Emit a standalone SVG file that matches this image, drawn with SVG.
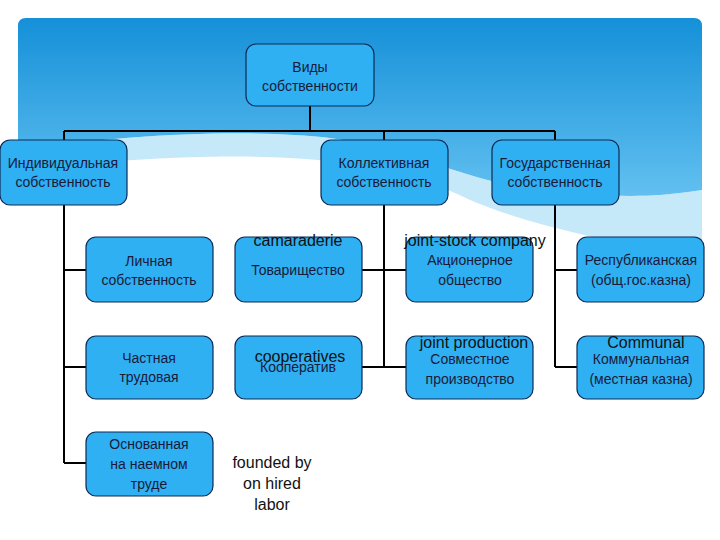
<svg xmlns="http://www.w3.org/2000/svg" width="720" height="540" viewBox="0 0 720 540">
<defs>
<linearGradient id="bg" x1="0" y1="0" x2="0" y2="1">
<stop offset="0" stop-color="#1590d8"/><stop offset="1" stop-color="#62c0f0"/>
</linearGradient>
<style>
.n rect{fill:#2eb0f2;stroke:#0d2a55;stroke-width:1.2}
.n text{font-family:"Liberation Sans",Arial,sans-serif;font-size:14px;fill:#1a1a3a;text-anchor:middle}
.n text.en,.en{font-family:"Liberation Sans",Arial,sans-serif;font-size:16px;fill:#111;text-anchor:middle}
#c path{fill:none;stroke:#000;stroke-width:2}
</style>
</defs>
<rect width="720" height="540" fill="#fff"/>
<path d="M26 18 H694 Q702 18 702 26 V190 C640 200 600 195 560 192 C470 186 420 150 330 138 C250 128 120 135 18 150 V26 Q18 18 26 18 Z" fill="url(#bg)"/>
<path d="M18 150 C120 135 250 128 330 138 C420 150 470 186 560 192 C600 195 640 200 702 190 V265 C620 240 540 230 470 200 C400 165 300 140 18 170 Z" fill="#8dd3f5" opacity="0.5"/>
<g id="c">
<path d="M310 104 V131 M64 131 H555 M64 131 V147 M384 131 V147 M555 131 V147"/>
<path d="M64 205 V463 M64 270 H86 M64 367 H86 M64 463 H86"/>
<path d="M384 205 V367 M362 270 H406 M362 367 H406"/>
<path d="M555 205 V367 M555 270 H577 M555 367 H577"/>
</g>
<g id="root" class="n"><rect x="246" y="44" width="128" height="62" rx="10"/><text x="310" y="72">Виды</text><text x="310" y="91">собственности</text></g>
<g id="ind" class="n"><rect x="0" y="140" width="127" height="65" rx="10"/><text x="63" y="168">Индивидуальная</text><text x="63" y="187">собственность</text></g>
<g id="kol" class="n"><rect x="321" y="140" width="127" height="65" rx="10"/><text x="384" y="168">Коллективная</text><text x="384" y="187">собственность</text></g>
<g id="gos" class="n"><rect x="492" y="140" width="127" height="65" rx="10"/><text x="555" y="168">Государственная</text><text x="555" y="187">собственность</text></g>
<g id="lich" class="n"><rect x="86" y="237" width="127" height="65" rx="10"/><text x="149" y="266">Личная</text><text x="149" y="285">собственность</text></g>
<g id="chast" class="n"><rect x="86" y="336" width="127" height="63" rx="10"/><text x="149" y="363">Частная</text><text x="149" y="382">трудовая</text></g>
<g id="osn" class="n"><rect x="86" y="432" width="127" height="64" rx="10"/><text x="149" y="449">Основанная</text><text x="149" y="469">на наемном</text><text x="149" y="489">труде</text></g>
<g id="tov" class="n"><rect x="235" y="237" width="127" height="65" rx="10"/><text x="298" y="275">Товарищество</text><text class="en" x="298" y="246">camaraderie</text></g>
<g id="koop" class="n"><rect x="235" y="336" width="127" height="63" rx="10"/><text x="298" y="372">Кооператив</text><text class="en" x="300" y="362">cooperatives</text></g>
<g id="akc" class="n"><rect x="406" y="237" width="127" height="65" rx="10"/><text x="470" y="265">Акционерное</text><text x="470" y="285">общество</text><text class="en" x="475" y="246">joint-stock company</text></g>
<g id="sovm" class="n"><rect x="406" y="336" width="127" height="63" rx="10"/><text x="470" y="364">Совместное</text><text x="470" y="384">производство</text><text class="en" x="474" y="348">joint production</text></g>
<g id="resp" class="n"><rect x="577" y="237" width="127" height="65" rx="10"/><text x="641" y="265">Республиканская</text><text x="641" y="285">(общ.гос.казна)</text></g>
<g id="komm" class="n"><rect x="577" y="336" width="127" height="63" rx="10"/><text x="641" y="364">Коммунальная</text><text x="641" y="384">(местная казна)</text><text class="en" x="646" y="348">Communal</text></g>
<g id="founded"><text class="en" x="272" y="468">founded by</text><text class="en" x="272" y="489">on hired</text><text class="en" x="272" y="510">labor</text></g>
</svg>
